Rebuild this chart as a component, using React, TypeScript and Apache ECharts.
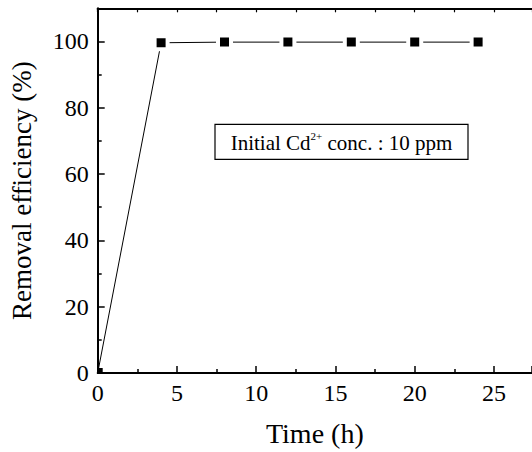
import React, { useEffect, useRef } from "react";
import * as echarts from "echarts";

const timeH = [0, 4, 8, 12, 16, 20, 24];
const removalEfficiency = [0, 99.6, 99.8, 99.8, 99.8, 99.8, 99.8];
const xAxisTitle = "Time (h)";
const yAxisTitle = "Removal efficiency (%)";
const annotationPre = "Initial Cd";
const annotationSup = "2+";
const annotationPost = " conc. : 10 ppm";

const FONT = "Liberation Serif";

export default function App() {
  const ref = useRef<HTMLDivElement>(null);
  useEffect(() => {
    if (!ref.current) return;
    const chart = echarts.init(ref.current, null, { renderer: "svg" });
    const data = timeH.map((t, i) =>
      i === 0
        ? { value: [t, removalEfficiency[i]], symbolSize: 5, symbolOffset: [2.5, -2.5], itemStyle: { borderWidth: 0 } }
        : { value: [t, removalEfficiency[i]] }
    );
    chart.setOption({
      animation: false,
      backgroundColor: "#fff",
      grid: { left: 97.7, top: 8.3, right: 0, bottom: 78.5, containLabel: false },
      xAxis: [
        {
          type: "value",
          min: 0,
          max: 27.4,
          interval: 5,
          name: xAxisTitle,
          nameLocation: "middle",
          nameGap: 46,
          nameTextStyle: { fontFamily: FONT, fontSize: 28, color: "#000" },
          axisLine: { show: true, onZero: false, lineStyle: { color: "#000", width: 2 } },
          axisTick: { show: true, inside: true, length: 7, lineStyle: { color: "#000", width: 1.5 } },
          minorTick: { show: true, splitNumber: 2, length: 4, lineStyle: { color: "#000", width: 1.5 } },
          axisLabel: { showMaxLabel: false, fontFamily: FONT, fontSize: 24, color: "#000", margin: 8 },
          splitLine: { show: false },
          minorSplitLine: { show: false },
        },
        {
          type: "value",
          position: "top",
          min: 0,
          max: 27.4,
          interval: 2.5,
          axisLine: { show: true, onZero: false, lineStyle: { color: "#000", width: 2 } },
          axisTick: { show: true, inside: true, length: 4, lineStyle: { color: "#000", width: 1.2 } },
          axisLabel: { show: false },
          splitLine: { show: false },
        },
      ],
      yAxis: {
        type: "value",
        min: 0,
        max: 110,
        interval: 20,
        name: yAxisTitle,
        nameLocation: "middle",
        nameGap: 62,
        nameTextStyle: { fontFamily: FONT, fontSize: 27, color: "#000" },
        axisLine: { show: true, onZero: false, lineStyle: { color: "#000", width: 2 } },
        axisTick: { show: true, inside: true, length: 7, lineStyle: { color: "#000", width: 1.5 } },
        minorTick: { show: true, splitNumber: 2, length: 4, lineStyle: { color: "#000", width: 1.5 } },
        axisLabel: { showMaxLabel: false, fontFamily: FONT, fontSize: 24, color: "#000", margin: 9 },
        splitLine: { show: false },
        minorSplitLine: { show: false },
      },
      series: [
        {
          type: "line",
          xAxisIndex: 0,
          data,
          symbol: "rect",
          symbolSize: 13,
          showAllSymbol: true,
          clip: false,
          lineStyle: { color: "#000", width: 1 },
          itemStyle: { color: "#000", borderColor: "#fff", borderWidth: 4 },
          z: 3,
        },
      ],
      graphic: [
        {
          type: "rect",
          shape: { x: 215, y: 124.3, width: 253, height: 35 },
          style: { fill: "#fff", stroke: "#000", lineWidth: 1.2 },
          z: 10,
        },
        {
          type: "text",
          x: 341.5,
          y: 143,
          z: 11,
          style: {
            text: `{a|${annotationPre}}{s|${annotationSup}}{a|${annotationPost}}`,
            align: "center",
            verticalAlign: "middle",
            rich: {
              a: { fontFamily: FONT, fontSize: 21, fill: "#000", lineHeight: 26 } as any,
              s: { fontFamily: FONT, fontSize: 11, fill: "#000", verticalAlign: "top", lineHeight: 26, padding: [0, 0, 14, 0] } as any,
            },
          },
        },
      ],
    });
    return () => chart.dispose();
  }, []);
  return (
    <div
      ref={ref}
      style={{ position: "absolute", left: 0, top: 0, width: 532, height: 452 }}
    />
  );
}
